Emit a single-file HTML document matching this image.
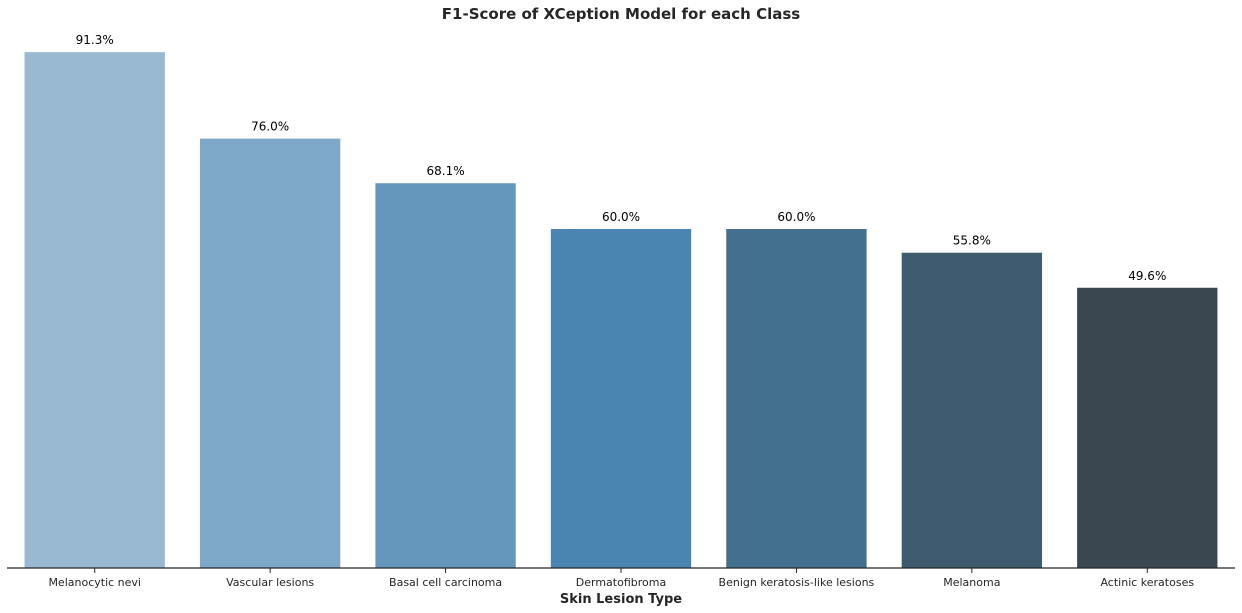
<!DOCTYPE html>
<html><head><meta charset="utf-8">
<style>
html,body{margin:0;padding:0;background:#fff;}
svg{display:block;font-family:"DejaVu Sans","Liberation Sans",sans-serif;}
</style></head>
<body>
<svg id="chart" width="1242" height="613">
<text x="621" y="19" text-anchor="middle" font-size="15" font-weight="bold" fill="#262626">F1-Score of XCeption Model for each Class</text>
<text x="621" y="603" text-anchor="middle" font-size="13" font-weight="bold" fill="#262626">Skin Lesion Type</text>
<g id="bars"></g>
<line x1="7" y1="568" x2="1235" y2="568" stroke="#262626" stroke-width="1.2"/>
</svg>
<script>
const categories = ["Melanocytic nevi","Vascular lesions","Basal cell carcinoma","Dermatofibroma","Benign keratosis-like lesions","Melanoma","Actinic keratoses"];
const values = [91.3, 76.0, 68.1, 60.0, 60.0, 55.8, 49.6];
const colors = ["#99b9d3","#7ea8c7","#6497bb","#4a84b0","#44708f","#3e5b70","#3a4750"];

const x0 = 7, x1 = 1235, baseY = 568, pxPerUnit = 5.65;
const step = (x1 - x0) / categories.length;
const xScale = i => x0 + step * (i + 0.5);
const yScale = v => baseY - v * pxPerUnit;
const ns = "http://www.w3.org/2000/svg";
const g = document.getElementById("bars");
const bw = step * 0.8;

categories.forEach((c, i) => {
  const cx = xScale(i), top = yScale(values[i]);
  const r = document.createElementNS(ns, "rect");
  r.setAttribute("x", cx - bw / 2); r.setAttribute("y", top);
  r.setAttribute("width", bw); r.setAttribute("height", baseY - top);
  r.setAttribute("fill", colors[i]);
  
  
  g.appendChild(r);

  const t = document.createElementNS(ns, "text");
  t.setAttribute("x", cx); t.setAttribute("y", top - 8);
  t.setAttribute("text-anchor", "middle"); t.setAttribute("font-size", "12");
  t.setAttribute("fill", "#000");
  t.textContent = values[i].toFixed(1) + "%";
  
  
  g.appendChild(t);

  const tk = document.createElementNS(ns, "line");
  tk.setAttribute("x1", cx); tk.setAttribute("x2", cx);
  tk.setAttribute("y1", baseY); tk.setAttribute("y2", baseY + 5);
  tk.setAttribute("stroke", "#262626");
  
  
  g.appendChild(tk);

  const l = document.createElementNS(ns, "text");
  l.setAttribute("x", cx); l.setAttribute("y", 586);
  l.setAttribute("text-anchor", "middle"); l.setAttribute("font-size", "11");
  l.setAttribute("fill", "#262626");
  l.textContent = c;
  
  
  g.appendChild(l);
});
</script>
</body></html>
